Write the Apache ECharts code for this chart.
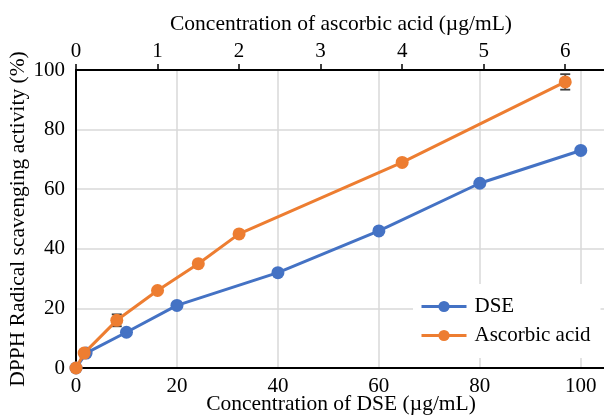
<!DOCTYPE html>
<html>
<head>
<meta charset="utf-8">
<script src="https://cdn.jsdelivr.net/npm/echarts@6/dist/echarts.min.js"></script>
<style>
  html, body { margin: 0; padding: 0; background: #fff; }
  #chart { width: 604px; height: 419px; }
</style>
</head>
<body>
<div id="chart"></div>
<script>
// DSE (bottom axis) and ascorbic acid (top axis) concentrations, µg/mL
const dseConc = [0, 2, 10, 20, 40, 60, 80, 100]
const dseActivity = [0, 5, 12, 21, 32, 46, 62, 73]
const ascConc = [0, 0.1, 0.5, 1, 1.5, 2, 4, 6]
const ascActivity = [0, 5, 16, 26, 35, 45, 69, 96]
const ascError = [0, 0, 2, 0, 0, 0, 0, 2.6]

const font = 'Liberation Serif, Times New Roman, serif'
const blue = '#4472C4'
const orange = '#ED7D31'

const chart = echarts.init(document.getElementById('chart'), null, { renderer: 'canvas' })

const option = {
  backgroundColor: '#fff',
  animation: false,
  textStyle: { fontFamily: font, color: '#000' },
  grid: { left: 76, right: -2, top: 70, bottom: 51, containLabel: false, outerBoundsMode: 'none' },
  legend: {
    orient: 'vertical',
    left: 413,
    top: 284,
    padding: [12, 10, 12, 7],
    backgroundColor: '#fff',
    itemWidth: 45,
    itemHeight: 14,
    itemGap: 8,
    lineStyle: { width: 3 },
    textStyle: { fontFamily: font, fontSize: 21, color: '#000', padding: [0, 0, 0, 3] },
    data: ['DSE', 'Ascorbic acid']
  },
  xAxis: [
    {
      type: 'value',
      position: 'bottom',
      min: 0,
      max: 105,
      interval: 20,
      name: 'Concentration of DSE (µg/mL)',
      nameLocation: 'middle',
      nameGap: 25,
      nameMoveOverlap: false,
      nameTextStyle: { fontFamily: font, fontSize: 21.5, color: '#000' },
      axisLine: { show: true, onZero: false, lineStyle: { color: '#000', width: 2 } },
      axisTick: { show: false },
      axisLabel: { fontFamily: font, fontSize: 21, color: '#000', margin: 8, showMaxLabel: false },
      splitLine: { show: true, lineStyle: { color: '#d9d9d9', width: 1.5 } }
    },
    {
      type: 'value',
      position: 'top',
      min: 0,
      max: 6.5,
      interval: 1,
      name: 'Concentration of ascorbic acid (µg/mL)',
      nameLocation: 'middle',
      nameGap: 35,
      nameMoveOverlap: false,
      nameTextStyle: { fontFamily: font, fontSize: 21.5, color: '#000' },
      axisLine: { show: true, onZero: false, lineStyle: { color: '#000', width: 2 } },
      axisTick: { show: true, inside: false, length: 6, lineStyle: { color: '#000', width: 1.5 } },
      axisLabel: { fontFamily: font, fontSize: 21, color: '#000', margin: 8, showMaxLabel: false },
      splitLine: { show: false }
    }
  ],
  yAxis: {
    type: 'value',
    min: 0,
    max: 100,
    interval: 20,
    name: 'DPPH Radical scavenging activity (%)',
    nameLocation: 'middle',
    nameGap: 47,
    nameMoveOverlap: false,
    nameTextStyle: { fontFamily: font, fontSize: 21.5, color: '#000' },
    axisLine: { show: true, lineStyle: { color: '#000', width: 2 } },
    axisTick: { show: false },
    axisLabel: { fontFamily: font, fontSize: 21, color: '#000', margin: 11 },
    splitLine: { show: true, lineStyle: { color: '#d9d9d9', width: 1.5 } }
  },
  series: [
    {
      name: 'DSE',
      type: 'line',
      xAxisIndex: 0,
      z: 3,
      clip: false,
      symbol: 'circle',
      symbolSize: 13,
      itemStyle: { color: blue },
      lineStyle: { color: blue, width: 3 },
      data: dseConc.map((x, i) => [x, dseActivity[i]])
    },
    {
      // error bars sit under the orange markers
      name: 'err',
      type: 'custom',
      xAxisIndex: 1,
      z: 4,
      silent: true,
      renderItem: (params, api) => {
        const x = api.value(0)
        const lo = api.coord([x, api.value(1)])
        const hi = api.coord([x, api.value(2)])
        const style = { stroke: '#404040', lineWidth: 1.8 }
        return {
          type: 'group',
          children: [
            { type: 'line', shape: { x1: hi[0], y1: hi[1], x2: lo[0], y2: lo[1] }, style },
            { type: 'line', shape: { x1: hi[0] - 5, y1: hi[1], x2: hi[0] + 5, y2: hi[1] }, style },
            { type: 'line', shape: { x1: lo[0] - 5, y1: lo[1], x2: lo[0] + 5, y2: lo[1] }, style }
          ]
        }
      },
      data: ascConc
        .map((x, i) => [x, ascActivity[i] - ascError[i], ascActivity[i] + ascError[i]])
        .filter((d, i) => ascError[i] > 0)
    },
    {
      name: 'Ascorbic acid',
      type: 'line',
      xAxisIndex: 1,
      z: 5,
      clip: false,
      symbol: 'circle',
      symbolSize: 13,
      itemStyle: { color: orange },
      lineStyle: { color: orange, width: 3 },
      data: ascConc.map((x, i) => [x, ascActivity[i]])
    }
  ]
}

chart.setOption(option)
</script>
</body>
</html>
